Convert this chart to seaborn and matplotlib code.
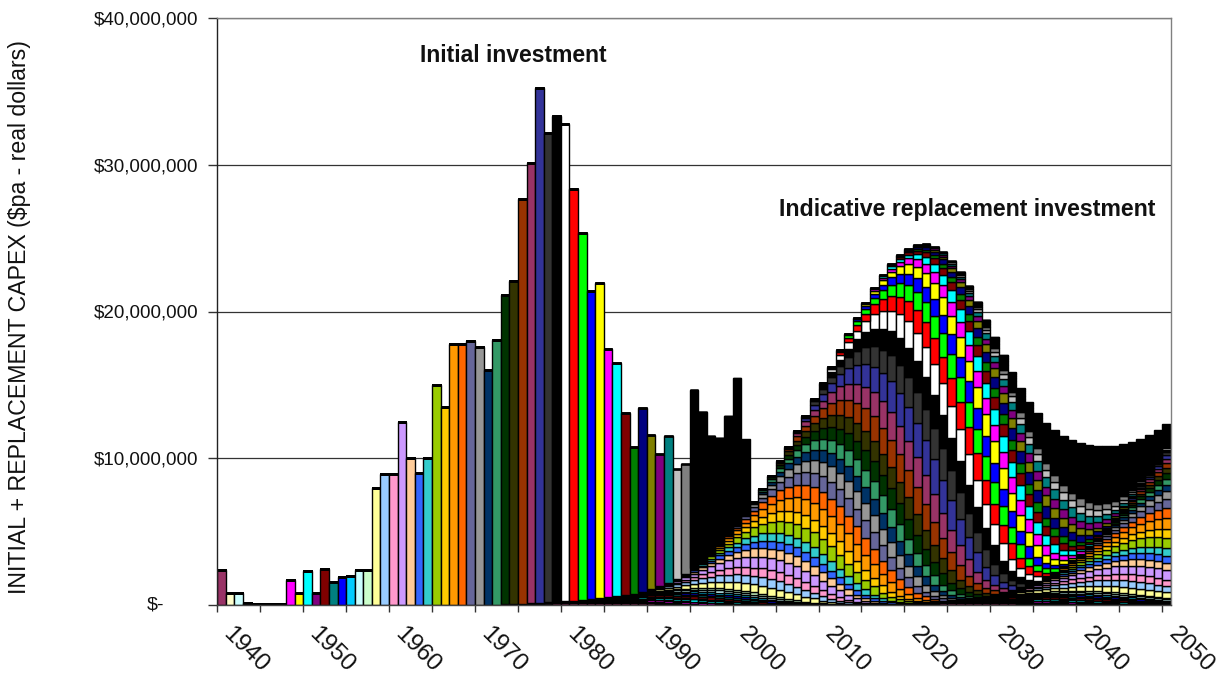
import numpy as np
import pandas as pd
import matplotlib
matplotlib.use("Agg")
import matplotlib.pyplot as plt
import matplotlib.transforms as mtransforms
import seaborn as sns

# ---------------- data ----------------
years = list(range(1939, 2050))
cohort_years = list(range(1939, 2001))

# initial investment of each cohort, in $ millions
initial_capex_musd = [
    2.4, 0.8, 0.8, 0.12, 0.08, 0.08, 0.08, 0.1, 1.7, 0.8,        # 1939-1948
    2.35, 0.8, 2.45, 1.55, 1.9, 2.0, 2.4, 2.4, 8.0, 8.9,         # 1949-1958
    8.9, 12.5, 10.0, 9.0, 10.0, 15.0, 13.5, 17.8, 17.8, 18.0,    # 1959-1968
    17.6, 16.0, 18.0, 21.05, 22.05, 27.6, 30.0, 35.1, 32.0, 33.1,  # 1969-1978
    32.5, 28.05, 25.0, 21.0, 21.5, 16.9, 15.9, 12.4, 10.0, 12.5,   # 1979-1988
    10.5, 9.0, 10.0, 7.5, 7.5, 12.15, 10.2, 8.0, 7.3, 8.1,       # 1989-1998
    10.0, 5.1,                                                   # 1999-2000
]

cohort_colors = [
    "#993366", "#FFFFCC", "#CCFFFF", "#660066", "#FF8080", "#0066CC", "#CCCCFF",
    "#000080", "#FF00FF", "#FFFF00", "#00FFFF", "#800080", "#800000", "#008080",
    "#0000FF", "#00CCFF", "#CCFFFF", "#CCFFCC", "#FFFF99", "#99CCFF", "#FF99CC",
    "#CC99FF", "#FFCC99", "#3366FF", "#33CCCC", "#99CC00", "#FFCC00", "#FF9900",
    "#FF6600", "#666699", "#969696", "#003366", "#339966", "#003300", "#333300",
    "#993300", "#993366", "#333399", "#333333", "#000000", "#FFFFFF", "#FF0000",
    "#00FF00", "#0000FF", "#FFFF00", "#FF00FF", "#00FFFF", "#800000", "#008000",
    "#000080", "#808000", "#800080", "#008080", "#C0C0C0", "#808080",
    "#000000", "#000000", "#000000", "#000000", "#000000", "#000000", "#000000",
]

# share of a cohort replaced at each asset age (first replacement), read from the white 1979 cohort
first_life_ages = list(range(30, 56))
first_life_share = [
    0.004, 0.007, 0.0105, 0.0136, 0.0168, 0.0241, 0.0304, 0.0367, 0.043, 0.0493,
    0.0556, 0.0598, 0.064, 0.065, 0.0671, 0.0671, 0.0671, 0.064, 0.0577, 0.0508,
    0.0436, 0.0388, 0.0241, 0.0185, 0.0122, 0.0088,
]

# share replaced a second time, by asset age (estimated from the 2035-2049 layers)
second_life_ages = list(range(68, 109))
second_life_share = [
    0.0018, 0.0025, 0.0034, 0.0045, 0.0060, 0.0078, 0.0099, 0.0125, 0.0153, 0.0187,
    0.0223, 0.0262, 0.0302, 0.0343, 0.0382, 0.0420, 0.0453, 0.0480, 0.0501, 0.0514,
    0.0518, 0.0514, 0.0501, 0.0480, 0.0453, 0.0420, 0.0382, 0.0343, 0.0302, 0.0262,
    0.0223, 0.0187, 0.0153, 0.0125, 0.0099, 0.0078, 0.0060, 0.0045, 0.0034, 0.0025,
    0.0018,
]

y_tick_values = [0, 10e6, 20e6, 30e6, 40e6]
y_tick_labels = ["", "$10,000,000", "$20,000,000", "$30,000,000", "$40,000,000"]
x_label_years = list(range(1940, 2051, 10))

# ---------------- long table for seaborn ----------------
first_map = dict(zip(first_life_ages, first_life_share))
second_map = dict(zip(second_life_ages, second_life_share))
rows = []
for c, inv in zip(cohort_years, initial_capex_musd):
    for y in years:
        age = y - c
        v = 0.0
        if age == 0:
            v += inv
        v += inv * first_map.get(age, 0.0)
        v += inv * second_map.get(age, 0.0)
        rows.append((y, str(c), v * 1e6))
df = pd.DataFrame(rows, columns=["year", "cohort", "capex"])
palette = {str(c): col for c, col in zip(cohort_years, cohort_colors)}

# ---------------- figure ----------------
sns.set_theme(style="white")
plt.rcParams["font.family"] = ["Liberation Sans", "DejaVu Sans"]

W, H = 1228, 681
fig = plt.figure(figsize=(W / 100, H / 100), dpi=100)
L, R, T, B = 217.3, 1170.7, 18, 605
ax = fig.add_axes([L / W, 1 - B / H, (R - L) / W, (B - T) / H])

sns.histplot(
    data=df, x="year", weights="capex", hue="cohort",
    hue_order=[str(c) for c in reversed(cohort_years)],
    palette=palette, multiple="stack", discrete=True, shrink=1.0,
    alpha=1.0, edgecolor="black", linewidth=1.0, legend=False, ax=ax,
)

ax.set_xlim(1938.5, 2049.5)
ax.set_ylim(0, 40e6)
ax.set_yticks(y_tick_values)
ax.set_yticklabels(y_tick_labels, fontsize=13.5, color="#111111")
ax.yaxis.grid(True, color="#333333", linewidth=0.9)
ax.xaxis.grid(False)
ax.set_axisbelow(True)
ax.set_xticks(np.arange(1938.5, 2049.6, 5))
ax.set_xticklabels([])
ax.tick_params(axis="x", which="major", direction="out", length=5, width=1,
               color="#333333", bottom=True)
ax.tick_params(axis="y", which="major", direction="out", length=6.5, width=1,
               color="#333333", left=True, pad=7)
ax.set_xlabel("")
ax.set_ylabel("")

for side, col in [("left", "#222222"), ("bottom", "#444444"),
                  ("top", "#808080"), ("right", "#808080")]:
    ax.spines[side].set_visible(True)
    ax.spines[side].set_color(col)
    ax.spines[side].set_linewidth(1.0)

# "$-" label for zero (accounting style)
trans_y = mtransforms.blended_transform_factory(ax.transAxes, ax.transData)
ax.text(-0.056, 0, "$-", transform=trans_y, ha="right", va="center",
        fontsize=14, color="#111111")

# rotated year labels
trans_x = mtransforms.blended_transform_factory(ax.transData, ax.transAxes)
for yr in x_label_years:
    ax.text(yr + 0.5, -0.03, str(yr), transform=trans_x, rotation=-45,
            rotation_mode="anchor", ha="left", va="top", fontsize=17.5,
            color="#111111", clip_on=False)

fig.text(20 / W, 1 - 317 / H, "INITIAL + REPLACEMENT CAPEX ($pa - real dollars)",
         rotation=90, ha="center", va="center", fontsize=16.7, color="#111111")
fig.text(513 / W, 1 - 55 / H, "Initial investment", ha="center", va="center",
         fontsize=16.5, fontweight="bold", color="#111111")
fig.text(967 / W, 1 - 210 / H, "Indicative replacement investment", ha="center",
         va="center", fontsize=16.7, fontweight="bold", color="#111111")

fig.savefig("out.png", dpi=100)
